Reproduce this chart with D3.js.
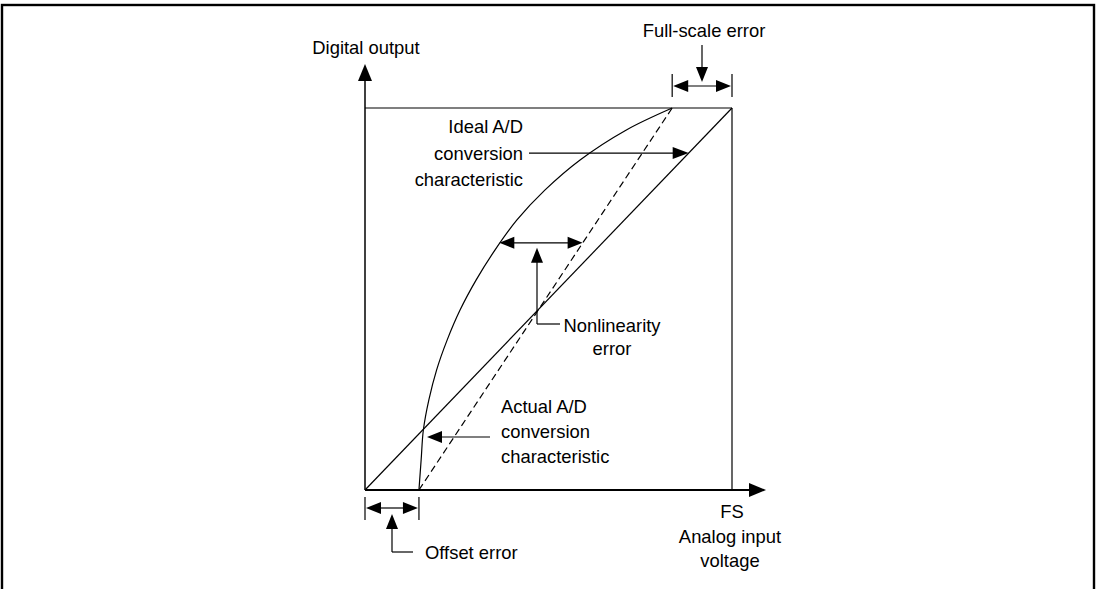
<!DOCTYPE html>
<html>
<head>
<meta charset="utf-8">
<script src="https://cdn.jsdelivr.net/npm/d3@7"></script>
<style>
  html, body { margin: 0; padding: 0; background: #fff; }
  svg { display: block; }
  text { font-family: "Liberation Sans", Arial, Helvetica, sans-serif; font-size: 18.4px; fill: #000; }
</style>
</head>
<body>
<svg id="chart" width="1097" height="589"></svg>
<script>
// values in percent of full scale (x: analog input, y: digital output)
var idealLine = [[0, 0], [100, 100]];
var offsetError = 14.7;
var fullScaleEnd = 83.7;
var linearFit = [[offsetError, 0], [fullScaleEnd, 100]];
var actualCurve = [
    [14.7, 0], [15.3, 7.9], [15.9, 15.7], [17.4, 23.6], [19.5, 31.4],
    [22.4, 39.3], [25.9, 47.1], [30.3, 55.0], [35.4, 62.8], [41.4, 70.7],
    [49.0, 78.5], [58.6, 86.4], [71.1, 94.2], [83.7, 100]
];
var nonlinLevel = 64.7;      // where the nonlinearity error is marked
var nonlinFrom = 36.6, nonlinTo = 59.3;

var svg = d3.select('#chart');

// outer frame
svg.append('rect')
    .attr('x', 2).attr('y', 5)
    .attr('width', 1092).attr('height', 600)
    .attr('fill', 'none').attr('stroke', '#000').attr('stroke-width', 2.4);

var x = d3.scaleLinear().domain([0, 100]).range([365, 732]);
var y = d3.scaleLinear().domain([0, 100]).range([490, 108]);

var g = svg.append('g');

function seg(x1, y1, x2, y2, w) {
    return g.append('line')
        .attr('x1', x1).attr('y1', y1).attr('x2', x2).attr('y2', y2)
        .attr('stroke', '#000').attr('stroke-width', w || 1.2);
}

// filled arrow head with tip at (tx,ty) pointing in direction (dx,dy)
function head(tx, ty, dx, dy, len, half) {
    var bx = tx - dx * len, by = ty - dy * len;
    var px = -dy * half, py = dx * half;
    g.append('path')
        .attr('d', 'M' + tx + ',' + ty + 'L' + (bx + px) + ',' + (by + py) + 'L' + (bx - px) + ',' + (by - py) + 'Z')
        .attr('fill', '#000');
}

function label(lines, tx, ty, anchor, gap) {
    var t = g.append('text').attr('text-anchor', anchor);
    lines.forEach(function(s, i) {
        t.append('tspan').attr('x', tx).attr('y', ty + i * gap).text(s);
    });
}

// axes with arrows
seg(x(0), y(0), x(0), 80, 1.5);
head(x(0), 64, 0, -1, 17, 7);
seg(x(0), y(0), 750, y(0), 1.8);
head(766, y(0), 1, 0, 17, 7);

// full scale box
seg(x(0), y(100), x(100), y(100));
seg(x(100), y(100), x(100), y(0));

// ideal characteristic
var line = d3.line().x(function(d) { return x(d[0]); }).y(function(d) { return y(d[1]); });
g.append('path').datum(idealLine).attr('d', line)
    .attr('fill', 'none').attr('stroke', '#000').attr('stroke-width', 1.2);

// straight line through the actual end points
g.append('path').datum(linearFit).attr('d', line)
    .attr('fill', 'none').attr('stroke', '#000').attr('stroke-width', 1.2)
    .attr('stroke-dasharray', '7,4');

// actual characteristic
g.append('path').datum(actualCurve).attr('d', line.curve(d3.curveCatmullRom))
    .attr('fill', 'none').attr('stroke', '#000').attr('stroke-width', 1.2);

// Ideal label + arrow
var idealLv = 88.2;
seg(529, y(idealLv), x(idealLv) - 14, y(idealLv));
head(x(idealLv), y(idealLv), 1, 0, 16, 6);
label(['Ideal A/D', 'conversion', 'characteristic'], 523, 133, 'end', 26.5);

// Nonlinearity error
var ny = y(nonlinLevel);
seg(x(nonlinFrom) + 12, ny, x(nonlinTo) - 12, ny);
head(x(nonlinFrom), ny, -1, 0, 15, 6);
head(x(nonlinTo), ny, 1, 0, 15, 6);
seg(537, ny + 18, 537, 324);
head(537, ny + 5, 0, -1, 15, 6);
seg(537, 324, 560, 324);
label(['Nonlinearity', 'error'], 612, 332, 'middle', 23);

// Actual label + arrow
seg(490, 437, 440, 437);
head(427, 437, -1, 0, 15, 6);
label(['Actual A/D', 'conversion', 'characteristic'], 501, 413, 'start', 25);

// Offset error
seg(x(0), 497, x(0), 520);
seg(x(offsetError), 497, x(offsetError), 520);
seg(x(0) + 12, 508, x(offsetError) - 12, 508);
head(x(0) + 1, 508, -1, 0, 15, 6);
head(x(offsetError) - 1, 508, 1, 0, 15, 6);
seg(392, 528, 392, 552);
head(392, 514, 0, -1, 15, 6);
seg(392, 552, 413, 552);
label(['Offset error'], 425, 559, 'start', 0);

// Full-scale error
seg(x(fullScaleEnd), 74, x(fullScaleEnd), 97);
seg(x(100), 74, x(100), 97);
seg(x(fullScaleEnd) + 12, 86, x(100) - 12, 86);
head(x(fullScaleEnd) + 1, 86, -1, 0, 15, 6);
head(x(100) - 1, 86, 1, 0, 15, 6);
seg(702, 45, 702, 68);
head(702, 82, 0, 1, 15, 6);
label(['Full-scale error'], 704, 37, 'middle', 0);

// axis labels
label(['Digital output'], 366, 54, 'middle', 0);
label(['FS'], 732, 518, 'middle', 0);
label(['Analog input', 'voltage'], 730, 543, 'middle', 24);
</script>
</body>
</html>
